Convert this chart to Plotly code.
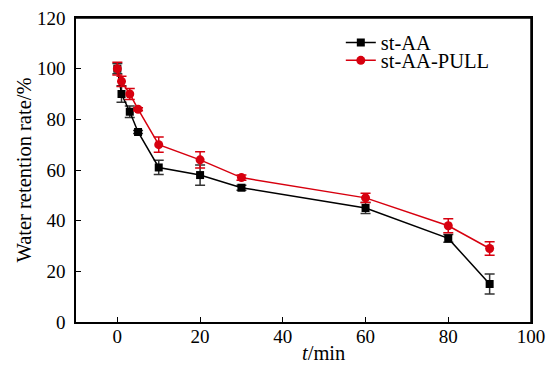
import plotly.graph_objects as go

t_min = [0, 1, 3, 5, 10, 20, 30, 60, 80, 90]
st_aa = [100, 90, 83, 75, 61, 58, 53, 45, 33, 15]
st_aa_err = [2, 3.3, 2.3, 0.6, 2.8, 4, 1, 2.2, 1.5, 3.9]
st_aa_pull = [100, 95, 90, 84, 70, 64, 57, 49, 38, 29]
st_aa_pull_err = [2.5, 2, 2.2, 0.6, 3, 3.2, 1, 1.8, 2.8, 2.7]

RED = "#d7000f"
FONT = "Liberation Serif"

fig = go.Figure()
fig.add_trace(go.Scatter(
    x=t_min, y=st_aa, name="st-AA", mode="lines+markers", legend="legend",
    line=dict(color="black", width=1.5),
    marker=dict(symbol="square", size=8, color="black"),
    error_y=dict(type="data", array=st_aa_err, visible=True, color="#333333", thickness=1.5, width=5),
))
fig.add_trace(go.Scatter(
    x=t_min, y=st_aa_pull, name="st-AA-PULL", mode="lines+markers", legend="legend2",
    line=dict(color=RED, width=1.5),
    marker=dict(symbol="circle", size=9, color=RED),
    error_y=dict(type="data", array=st_aa_pull_err, visible=True, color=RED, thickness=1.5, width=5),
))

axis_common = dict(
    showline=True, linecolor="black", linewidth=1.5, mirror=True,
    ticks="inside", ticklen=5, tickcolor="black", tickwidth=1.2,
    showgrid=False, zeroline=False, automargin=False,
    tickfont=dict(family=FONT, size=19, color="black"),
)

leg_common = dict(xanchor="left", yanchor="top", font=dict(family=FONT, size=20.5),
                  bgcolor="rgba(0,0,0,0)", itemwidth=30)

fig.update_layout(
    width=555, height=367,
    margin=dict(l=76, r=24, t=18, b=45),
    plot_bgcolor="white", paper_bgcolor="white",
    font=dict(family=FONT, color="black"),
    xaxis=dict(range=[-10, 100], tickvals=[0, 20, 40, 60, 80, 100], ticklabelstandoff=-4,
               **axis_common),
    yaxis=dict(range=[0, 120], tickvals=[0, 20, 40, 60, 80, 100, 120], ticklabelstandoff=5,
               title=dict(text="Water retention rate/%", font=dict(family=FONT, size=20.5), standoff=0),
               **axis_common),
    legend=dict(x=0.582, y=0.985, **leg_common),
    legend2=dict(x=0.582, y=0.926, **leg_common),
    annotations=[dict(text="<i>t</i>/min", xref="paper", yref="paper", x=0.543, y=-0.102,
                      xanchor="center", yanchor="middle", showarrow=False,
                      font=dict(family=FONT, size=20.5, color="black"))],
    shapes=[
        dict(type="line", xref="paper", yref="paper", x0=0, x1=1, y0=1, y1=1,
             line=dict(color="black", width=1.5), layer="above"),
        dict(type="line", xref="paper", yref="paper", x0=1, x1=1, y0=0, y1=1,
             line=dict(color="black", width=1.5), layer="above"),
    ],
    showlegend=True,
)

fig.write_html("out.html", config={"displayModeBar": False},
               post_script="document.body.style.margin='0px';")
